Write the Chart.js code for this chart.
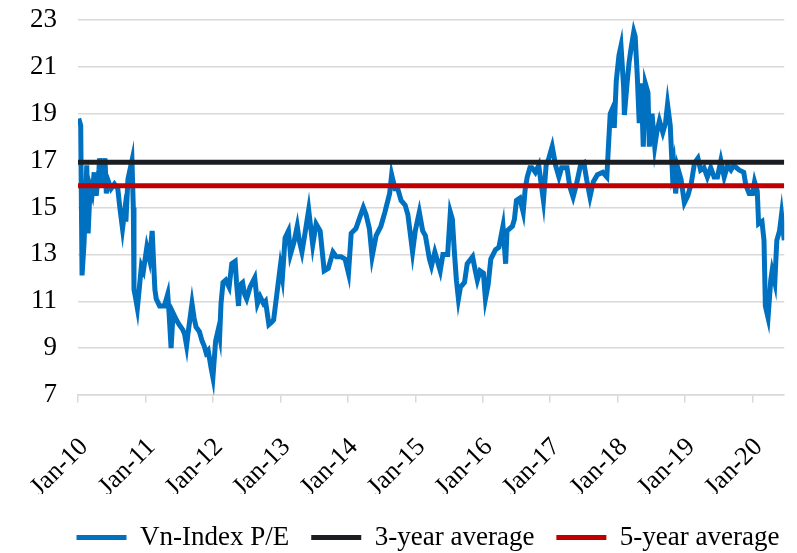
<!DOCTYPE html>
<html>
<head>
<meta charset="utf-8">
<script src="https://cdn.jsdelivr.net/npm/chart.js@4.4.0/dist/chart.umd.min.js"></script>
<style>
  body { margin: 0; background: #fff; }
  #wrap { width: 797px; height: 553px; }
</style>
</head>
<body>
<div id="wrap"><canvas id="grafico"></canvas></div>
<script>
// ===== DADOS =====
const peDates = [
  2010.01, 2010.04, 2010.06, 2010.09, 2010.13, 2010.15, 2010.18, 2010.21, 2010.24, 2010.27, 2010.31, 2010.32,
  2010.35, 2010.37, 2010.40, 2010.42, 2010.44, 2010.49, 2010.54, 2010.59, 2010.62, 2010.66, 2010.69, 2010.71,
  2010.74, 2010.80, 2010.82, 2010.83, 2010.85, 2010.88, 2010.91, 2010.94, 2010.97,
  2011.02, 2011.06, 2011.10, 2011.12, 2011.14, 2011.16, 2011.21, 2011.25, 2011.28, 2011.33, 2011.35, 2011.38,
  2011.41, 2011.46, 2011.50, 2011.55, 2011.58, 2011.61, 2011.63, 2011.69, 2011.72, 2011.75, 2011.80, 2011.84,
  2011.87, 2011.90, 2011.93, 2011.97,
  2012.00, 2012.04, 2012.08, 2012.10, 2012.12, 2012.15, 2012.19, 2012.24, 2012.28, 2012.33, 2012.35, 2012.38,
  2012.40, 2012.44, 2012.47, 2012.50, 2012.55, 2012.62, 2012.66, 2012.70, 2012.75, 2012.78, 2012.83, 2012.87,
  2012.90, 2012.95,
  2013.00, 2013.03, 2013.07, 2013.12, 2013.15, 2013.20, 2013.25, 2013.28, 2013.32, 2013.36, 2013.42, 2013.48,
  2013.53, 2013.59, 2013.65, 2013.71, 2013.78, 2013.83, 2013.90, 2013.96,
  2014.01, 2014.05, 2014.12, 2014.18, 2014.23, 2014.27, 2014.32, 2014.36, 2014.42, 2014.49, 2014.55, 2014.62,
  2014.65, 2014.70, 2014.74, 2014.79, 2014.85, 2014.89, 2014.93, 2014.96,
  2015.00, 2015.06, 2015.11, 2015.15, 2015.21, 2015.24, 2015.29, 2015.32, 2015.37, 2015.41, 2015.48, 2015.52,
  2015.55, 2015.58, 2015.61, 2015.64, 2015.67, 2015.73, 2015.77, 2015.85, 2015.89, 2015.92, 2015.96,
  2016.01, 2016.04, 2016.08, 2016.12, 2016.19, 2016.24, 2016.30, 2016.34, 2016.36, 2016.44, 2016.47, 2016.50,
  2016.55, 2016.60, 2016.63, 2016.66, 2016.70, 2016.73, 2016.78, 2016.83, 2016.90, 2016.94, 2016.98,
  2017.03, 2017.08, 2017.13, 2017.17, 2017.25, 2017.29, 2017.34, 2017.39, 2017.45, 2017.50, 2017.54, 2017.59,
  2017.64, 2017.70, 2017.78, 2017.84, 2017.86, 2017.89, 2017.92, 2017.95, 2017.98,
  2018.02, 2018.05, 2018.09, 2018.10, 2018.14, 2018.17, 2018.20, 2018.24, 2018.26, 2018.29, 2018.32, 2018.35,
  2018.38, 2018.41, 2018.45, 2018.47, 2018.51, 2018.55, 2018.58, 2018.62, 2018.67, 2018.71, 2018.74, 2018.78,
  2018.81, 2018.83, 2018.86, 2018.89, 2018.94, 2018.99,
  2019.04, 2019.09, 2019.14, 2019.19, 2019.23, 2019.28, 2019.33, 2019.38, 2019.43, 2019.48, 2019.53, 2019.58,
  2019.63, 2019.68, 2019.72, 2019.80, 2019.87, 2019.90, 2019.95,
  2020.00, 2020.03, 2020.07, 2020.09, 2020.14, 2020.17, 2020.19, 2020.23, 2020.27, 2020.29, 2020.33, 2020.36,
  2020.40, 2020.43, 2020.47
];

const peValues = [
  18.8, 18.5, 12.1, 13.5, 16.8, 13.9, 15.9, 15.6, 16.5, 15.5, 16.6, 17.1,
  15.9, 16.4, 17.1, 15.6, 16.2, 15.8, 16.0, 15.8, 15.0, 14.1, 14.8, 14.4,
  16.2, 17.0, 15.0, 11.5, 11.2, 10.7, 11.6, 12.5, 12.3,
  13.3, 12.8, 14.0, 12.7, 11.5, 11.1, 10.8, 10.8, 10.8, 11.3, 10.5, 9.0,
  10.5, 10.2, 10.0, 9.8, 9.6, 9.1, 9.6, 10.9, 10.3, 9.9, 9.7, 9.3,
  9.1, 8.8, 8.9, 8.2,
  7.75, 9.3, 9.8, 9.5, 10.9, 11.8, 11.9, 11.6, 12.6, 12.7, 11.8, 10.8,
  11.7, 11.8, 11.3, 11.1, 11.6, 12.0, 10.9, 11.2, 10.9, 11.0, 10.0, 10.1,
  10.2, 11.35,
  12.5, 12.0, 13.7, 14.0, 13.0, 13.5, 14.2, 13.6, 13.1, 13.8, 14.9, 13.4,
  14.3, 14.0, 12.3, 12.4, 13.1, 12.9, 12.9, 12.8,
  12.2, 13.9, 14.1, 14.6, 15.0, 14.7, 14.1, 12.9, 13.8, 14.2, 14.8, 15.6,
  16.4, 15.8, 15.8, 15.3, 15.1, 14.7, 13.8, 13.1,
  14.0, 14.8, 14.0, 13.8, 12.8, 12.5, 13.1, 12.8, 12.3, 13.0, 13.0, 14.8,
  14.5, 13.1, 11.9, 11.1, 11.6, 11.8, 12.6, 12.9, 12.3, 11.9, 12.3,
  12.2, 11.1, 11.7, 12.8, 13.2, 13.3, 14.2, 12.6, 14.0, 14.2, 14.5, 15.3,
  15.4, 14.8, 15.8, 16.3, 16.7, 16.7, 16.5, 16.8, 15.3, 16.8, 17.1,
  17.6, 16.8, 16.3, 16.7, 16.7, 15.9, 15.45, 16.0, 16.8, 16.9, 16.2, 15.45,
  16.1, 16.4, 16.5, 16.3, 17.4, 19.0, 19.2, 18.4, 20.4,
  21.5, 21.9, 20.1, 18.95, 20.3, 21.2, 21.8, 22.5, 22.3, 20.7, 18.6, 20.3,
  17.6, 20.3, 19.9, 17.6, 19.0, 17.6, 18.2, 18.7, 18.2, 18.6, 19.4, 18.5,
  16.6, 16.9, 15.6, 16.7, 16.2, 15.2,
  15.5, 16.0, 16.9, 17.1, 16.6, 16.7, 16.3, 16.7, 16.3, 16.3, 17.0, 16.3,
  16.8, 16.6, 16.8, 16.6, 16.5, 15.96, 15.6,
  15.6, 16.1, 15.7, 14.3, 14.4, 13.6, 10.8, 10.3, 11.9, 12.3, 11.8, 13.6,
  14.0, 14.7, 13.6
];

const avg3Year = 16.93;
const avg5Year = 15.93;
const xStart = 2010;
const xEnd = 2020.47;
const tickYears = [2010, 2011, 2012, 2013, 2014, 2015, 2016, 2017, 2018, 2019, 2020];
const tickLabels = ["Jan-10", "Jan-11", "Jan-12", "Jan-13", "Jan-14", "Jan-15", "Jan-16", "Jan-17", "Jan-18", "Jan-19", "Jan-20"];
const seriesNames = ["Vn-Index P/E", "3-year average", "5-year average"];

const FONTE = "'Liberation Serif', 'Times New Roman', serif";
const CINZA = '#d9d9d9';

// ajusta a posição da legenda (um pouco para baixo e para a direita)
const moveLegenda = {
  id: 'moveLegenda',
  afterLayout(chart) {
    const lg = chart.legend;
    lg.top += 8;
    lg.bottom += 8;
    lg.left += 34;
    lg.right += 34;
  }
};

const ctx = document.getElementById('grafico').getContext('2d');

new Chart(ctx, {
  type: 'line',
  data: {
    datasets: [
      {
        label: seriesNames[0],
        data: peDates.map((d, i) => ({ x: d, y: peValues[i] })),
        borderColor: '#0070C0',
        backgroundColor: '#0070C0',
        borderWidth: 5,
        pointRadius: 0,
        tension: 0,
        order: 3
      },
      {
        label: seriesNames[1],
        data: [{ x: xStart, y: avg3Year }, { x: xEnd, y: avg3Year }],
        borderColor: '#1a1d21',
        backgroundColor: '#1a1d21',
        borderWidth: 5,
        pointRadius: 0,
        order: 2
      },
      {
        label: seriesNames[2],
        data: [{ x: xStart, y: avg5Year }, { x: xEnd, y: avg5Year }],
        borderColor: '#C00000',
        backgroundColor: '#C00000',
        borderWidth: 5,
        pointRadius: 0,
        order: 1
      }
    ]
  },
  options: {
    responsive: true,
    maintainAspectRatio: false,
    animation: false,
    layout: { padding: { top: 20, right: 9, left: 0, bottom: 0 } },
    plugins: {
      tooltip: { enabled: false },
      legend: {
        position: 'bottom',
        labels: {
          usePointStyle: true,
          pointStyle: 'line',
          pointStyleWidth: 50,
          boxHeight: 5,
          padding: 22,
          color: '#000',
          font: { family: FONTE, size: 27 },
          sort: (a, b) => a.datasetIndex - b.datasetIndex
        }
      }
    },
    scales: {
      x: {
        type: 'linear',
        min: xStart,
        max: xEnd,
        afterBuildTicks: (scale) => {
          scale.ticks = tickYears.map(v => ({ value: v }));
        },
        afterFit: (scale) => { scale.height = 99; },
        grid: {
          drawOnChartArea: false,
          drawTicks: true,
          tickLength: 15,
          tickBorderDash: [7, 40],
          color: CINZA,
          lineWidth: 1.5
        },
        border: { color: CINZA, width: 1.5 },
        ticks: {
          autoSkip: false,
          maxRotation: 45,
          minRotation: 45,
          padding: 22,
          labelOffset: 6,
          color: '#000',
          font: { family: FONTE, size: 26 },
          callback: (v, i) => tickLabels[i]
        }
      },
      y: {
        min: 7,
        max: 23,
        afterFit: (scale) => { scale.width = 78; },
        grid: {
          color: CINZA,
          lineWidth: 1.5,
          drawTicks: true,
          tickLength: 18,
          tickColor: 'rgba(0,0,0,0)'
        },
        border: { display: false },
        ticks: {
          stepSize: 2,
          padding: 3,
          color: '#000',
          font: { family: FONTE, size: 27 }
        }
      }
    }
  },
  plugins: [moveLegenda]
});
</script>
</body>
</html>
